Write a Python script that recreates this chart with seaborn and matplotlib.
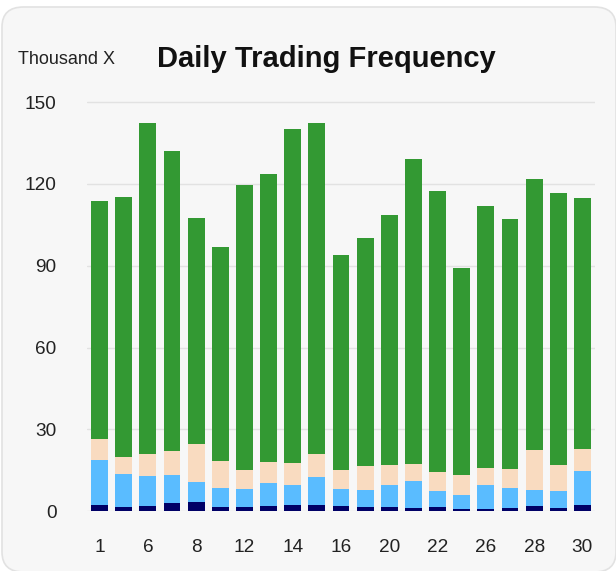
import pandas as pd
import seaborn as sns
import matplotlib.pyplot as plt
from matplotlib.patches import FancyBboxPatch

# trading days of the month
days = ['1', '2', '6', '7', '8', '9', '12', '13', '14', '15', '16',
        '19', '20', '21', '22', '23', '26', '27', '28', '29', '30']

# values in thousands, bottom to top of each stack
navy = [2.3, 1.6, 2.0, 3.1, 3.4, 1.6, 1.6, 2.0, 2.3, 2.3, 2.0,
        1.6, 1.6, 1.2, 1.6, 0.9, 0.9, 1.2, 2.0, 1.2, 2.3]
blue = [16.5, 12.1, 11.0, 10.2, 7.4, 7.0, 6.6, 8.4, 7.4, 10.3, 6.2,
        6.2, 8.1, 9.9, 5.9, 5.1, 8.8, 7.4, 5.8, 6.3, 12.5]
peach = [7.7, 6.2, 8.0, 8.8, 13.9, 9.9, 7.0, 7.7, 8.0, 8.4, 7.0,
         8.8, 7.3, 6.3, 6.9, 7.3, 6.2, 6.9, 14.7, 9.5, 8.1]
green = [87.3, 95.4, 121.4, 110.1, 82.9, 78.4, 104.5, 105.6, 122.5, 121.4, 78.8,
         83.6, 91.7, 111.8, 103.1, 75.9, 96.1, 91.7, 99.4, 99.7, 92.0]

df = pd.DataFrame({'day': days, 'navy': navy, 'blue': blue, 'peach': peach, 'green': green})
df['c1'] = df['navy']
df['c2'] = df['c1'] + df['blue']
df['c3'] = df['c2'] + df['peach']
df['c4'] = df['c3'] + df['green']

sns.set_style('white')
plt.rcParams['font.family'] = ['Liberation Sans', 'DejaVu Sans']

fig = plt.figure(figsize=(6.16, 5.71), dpi=100, facecolor='white')

# card background
card = FancyBboxPatch((2 / 616, 1 - 572 / 571), 614 / 616, 565 / 571,
                      boxstyle='round,pad=0,rounding_size=0.035',
                      transform=fig.transFigure, facecolor='#f7f7f7',
                      edgecolor='#e2e2e2', linewidth=1.2, zorder=-5)
fig.add_artist(card)

ax = fig.add_axes([87 / 616, 1 - 511.3 / 571, 508 / 616, 410 / 571])
ax.set_facecolor('none')
ax.set_zorder(1)

# draw tallest stack first, then smaller ones on top
for col, color in [('c4', '#339933'), ('c3', '#f9dbc0'), ('c2', '#5abcff'), ('c1', '#000066')]:
    sns.barplot(data=df, x='day', y=col, order=days, color=color,
                width=0.7, saturation=1, linewidth=0, ax=ax, zorder=3)

ax.set_xlim(-0.52, 20.52)
ax.set_ylim(0, 150.3)
ax.set_yticks([0, 30, 60, 90, 120, 150])
ax.set_xticks(range(0, 21, 2))
ax.set_xticklabels(days[::2])
ax.set_xlabel('')
ax.set_ylabel('')
ax.grid(axis='y', color='#e2e2e2', linewidth=1, zorder=0)
ax.set_axisbelow(True)
for s in ax.spines.values():
    s.set_visible(False)
ax.tick_params(axis='both', length=0, labelsize=13.7, colors='#222222')
ax.tick_params(axis='y', pad=22)
ax.tick_params(axis='x', pad=20)

fig.text(326 / 616, 1 - 59 / 571, 'Daily Trading Frequency', ha='center', va='center',
         fontsize=21, fontweight='bold', color='#111111')
fig.text(18 / 616, 1 - 60 / 571, 'Thousand X', ha='left', va='center',
         fontsize=13, color='#222222')

fig.savefig('out.png', dpi=100, facecolor='white')
